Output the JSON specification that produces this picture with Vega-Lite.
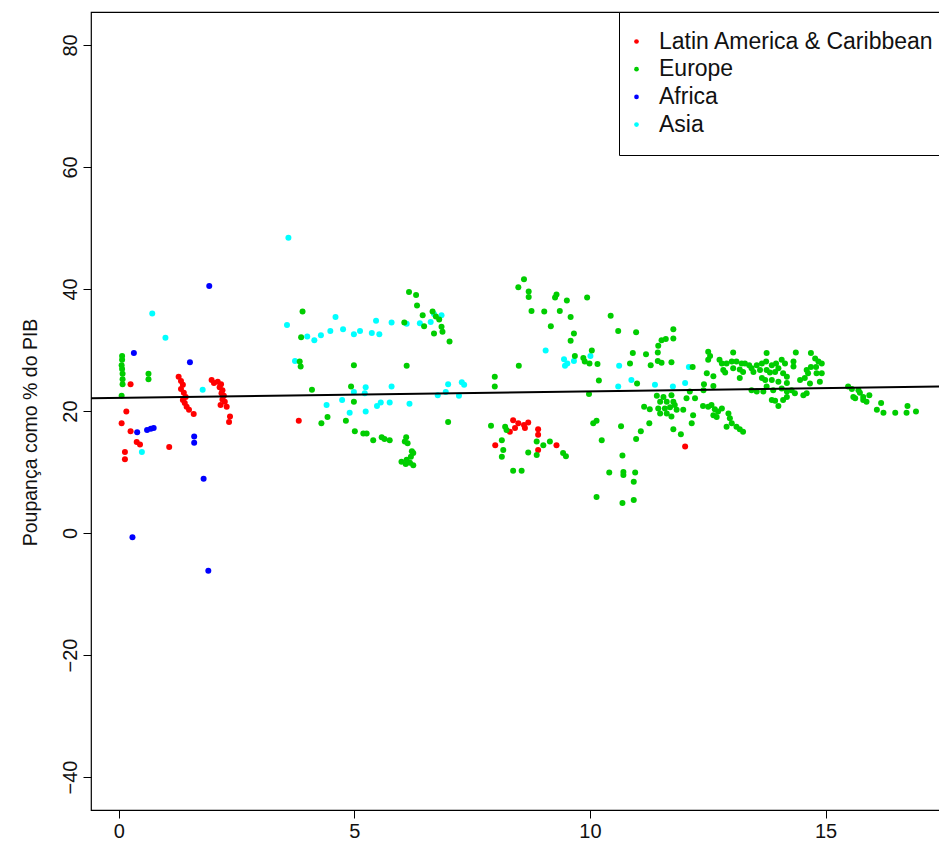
{
"$schema": "https://vega.github.io/schema/vega-lite/v6.json",
"width": 849, "height": 798,
"autosize": {"type": "none"},
"padding": {"left": 91, "top": 12, "right": 0, "bottom": 37},
"background": "white",
"config": {"view": {"stroke": "#000", "strokeWidth": 1.2}, "font": "Liberation Sans"},
"datasets": {
"fit": [{"x": -0.59, "y": 22.08}, {"x": 17.43, "y": 24.0}],
"pts": [
{"x":0.25,"y":24.4,"region":"Latin America & Caribbean"},{"x":0.16,"y":19.9,"region":"Latin America & Caribbean"},{"x":0.06,"y":18.0,"region":"Latin America & Caribbean"},{"x":0.25,"y":16.7,"region":"Latin America & Caribbean"},{"x":0.38,"y":14.9,"region":"Latin America & Caribbean"},{"x":0.45,"y":14.5,"region":"Latin America & Caribbean"},{"x":0.13,"y":13.3,"region":"Latin America & Caribbean"},{"x":0.13,"y":12.1,"region":"Latin America & Caribbean"},{"x":1.07,"y":14.1,"region":"Latin America & Caribbean"},
{"x":1.27,"y":25.6,"region":"Latin America & Caribbean"},{"x":1.32,"y":24.9,"region":"Latin America & Caribbean"},{"x":1.36,"y":24.3,"region":"Latin America & Caribbean"},{"x":1.32,"y":23.6,"region":"Latin America & Caribbean"},{"x":1.38,"y":23.0,"region":"Latin America & Caribbean"},{"x":1.42,"y":22.3,"region":"Latin America & Caribbean"},{"x":1.36,"y":21.8,"region":"Latin America & Caribbean"},{"x":1.40,"y":21.3,"region":"Latin America & Caribbean"},{"x":1.44,"y":20.7,"region":"Latin America & Caribbean"},{"x":1.49,"y":20.2,"region":"Latin America & Caribbean"},{"x":1.59,"y":19.5,"region":"Latin America & Caribbean"},
{"x":1.97,"y":25.1,"region":"Latin America & Caribbean"},{"x":2.02,"y":24.6,"region":"Latin America & Caribbean"},{"x":2.10,"y":24.8,"region":"Latin America & Caribbean"},{"x":2.17,"y":24.4,"region":"Latin America & Caribbean"},{"x":2.14,"y":23.9,"region":"Latin America & Caribbean"},{"x":2.20,"y":23.4,"region":"Latin America & Caribbean"},{"x":2.18,"y":22.9,"region":"Latin America & Caribbean"},{"x":2.23,"y":22.5,"region":"Latin America & Caribbean"},{"x":2.20,"y":21.9,"region":"Latin America & Caribbean"},{"x":2.25,"y":21.5,"region":"Latin America & Caribbean"},{"x":2.16,"y":21.0,"region":"Latin America & Caribbean"},{"x":2.29,"y":20.7,"region":"Latin America & Caribbean"},{"x":2.36,"y":19.1,"region":"Latin America & Caribbean"},{"x":2.34,"y":18.2,"region":"Latin America & Caribbean"},
{"x":3.82,"y":18.4,"region":"Latin America & Caribbean"},{"x":7.99,"y":14.4,"region":"Latin America & Caribbean"},{"x":8.37,"y":18.5,"region":"Latin America & Caribbean"},{"x":8.48,"y":18.0,"region":"Latin America & Caribbean"},{"x":8.60,"y":17.7,"region":"Latin America & Caribbean"},{"x":8.69,"y":18.1,"region":"Latin America & Caribbean"},{"x":8.30,"y":16.6,"region":"Latin America & Caribbean"},{"x":8.41,"y":17.2,"region":"Latin America & Caribbean"},{"x":8.62,"y":17.2,"region":"Latin America & Caribbean"},{"x":8.90,"y":17.0,"region":"Latin America & Caribbean"},{"x":8.90,"y":16.1,"region":"Latin America & Caribbean"},{"x":8.90,"y":13.6,"region":"Latin America & Caribbean"},{"x":9.29,"y":14.4,"region":"Latin America & Caribbean"},{"x":12.02,"y":14.2,"region":"Latin America & Caribbean"},
{"x":0.32,"y":29.5,"region":"Africa"},{"x":0.39,"y":16.5,"region":"Africa"},{"x":0.60,"y":16.9,"region":"Africa"},{"x":0.68,"y":17.1,"region":"Africa"},{"x":0.74,"y":17.2,"region":"Africa"},{"x":0.29,"y":-0.7,"region":"Africa"},{"x":1.51,"y":28.0,"region":"Africa"},{"x":1.60,"y":15.8,"region":"Africa"},{"x":1.60,"y":14.8,"region":"Africa"},{"x":1.80,"y":8.9,"region":"Africa"},{"x":1.92,"y":40.5,"region":"Africa"},{"x":1.90,"y":-6.2,"region":"Africa"},
{"x":0.71,"y":36.0,"region":"Asia"},{"x":0.99,"y":32.0,"region":"Asia"},{"x":0.49,"y":13.3,"region":"Asia"},{"x":1.78,"y":23.5,"region":"Asia"},{"x":3.60,"y":48.4,"region":"Asia"},{"x":3.57,"y":34.1,"region":"Asia"},{"x":3.74,"y":28.2,"region":"Asia"},{"x":4.00,"y":32.2,"region":"Asia"},{"x":4.15,"y":31.6,"region":"Asia"},{"x":4.29,"y":32.4,"region":"Asia"},{"x":4.49,"y":33.1,"region":"Asia"},{"x":4.60,"y":35.4,"region":"Asia"},{"x":4.76,"y":33.4,"region":"Asia"},{"x":4.99,"y":32.6,"region":"Asia"},{"x":5.12,"y":33.1,"region":"Asia"},{"x":5.37,"y":32.8,"region":"Asia"},{"x":5.46,"y":34.8,"region":"Asia"},{"x":5.53,"y":32.6,"region":"Asia"},{"x":5.79,"y":34.5,"region":"Asia"},{"x":6.11,"y":34.3,"region":"Asia"},{"x":6.39,"y":34.4,"region":"Asia"},{"x":6.62,"y":34.6,"region":"Asia"},{"x":6.69,"y":35.9,"region":"Asia"},{"x":6.85,"y":35.7,"region":"Asia"},{"x":4.41,"y":21.0,"region":"Asia"},{"x":4.74,"y":21.8,"region":"Asia"},{"x":4.90,"y":19.7,"region":"Asia"},{"x":4.99,"y":23.1,"region":"Asia"},{"x":5.24,"y":23.9,"region":"Asia"},{"x":5.22,"y":22.9,"region":"Asia"},{"x":5.24,"y":19.9,"region":"Asia"},{"x":5.48,"y":20.8,"region":"Asia"},{"x":5.56,"y":21.4,"region":"Asia"},{"x":5.75,"y":21.4,"region":"Asia"},{"x":5.79,"y":24.0,"region":"Asia"},{"x":6.17,"y":21.2,"region":"Asia"},{"x":6.77,"y":22.6,"region":"Asia"},{"x":6.94,"y":23.1,"region":"Asia"},{"x":6.99,"y":24.4,"region":"Asia"},{"x":7.22,"y":22.5,"region":"Asia"},{"x":7.28,"y":24.7,"region":"Asia"},{"x":7.33,"y":24.3,"region":"Asia"},{"x":9.06,"y":29.9,"region":"Asia"},{"x":9.45,"y":28.5,"region":"Asia"},{"x":9.52,"y":27.8,"region":"Asia"},{"x":9.47,"y":27.4,"region":"Asia"},{"x":9.66,"y":28.2,"region":"Asia"},{"x":10.01,"y":29.0,"region":"Asia"},{"x":10.60,"y":24.0,"region":"Asia"},{"x":10.62,"y":27.4,"region":"Asia"},{"x":10.88,"y":25.1,"region":"Asia"},{"x":11.38,"y":24.3,"region":"Asia"},{"x":11.76,"y":24.0,"region":"Asia"},{"x":12.02,"y":24.6,"region":"Asia"},{"x":12.10,"y":27.2,"region":"Asia"},
{"x":0.07,"y":29.0,"region":"Europe"},{"x":0.07,"y":28.4,"region":"Europe"},{"x":0.06,"y":27.5,"region":"Europe"},{"x":0.07,"y":26.9,"region":"Europe"},{"x":0.08,"y":26.1,"region":"Europe"},{"x":0.08,"y":25.2,"region":"Europe"},{"x":0.08,"y":24.4,"region":"Europe"},{"x":0.06,"y":22.5,"region":"Europe"},{"x":0.63,"y":26.1,"region":"Europe"},{"x":0.63,"y":25.2,"region":"Europe"},
{"x":3.90,"y":36.3,"region":"Europe"},{"x":3.87,"y":32.1,"region":"Europe"},{"x":3.84,"y":28.1,"region":"Europe"},{"x":3.86,"y":27.3,"region":"Europe"},{"x":4.10,"y":23.5,"region":"Europe"},{"x":4.43,"y":19.0,"region":"Europe"},{"x":4.30,"y":18.0,"region":"Europe"},{"x":4.82,"y":18.4,"region":"Europe"},{"x":4.93,"y":24.0,"region":"Europe"},{"x":4.99,"y":27.5,"region":"Europe"},{"x":4.99,"y":21.5,"region":"Europe"},{"x":5.01,"y":16.7,"region":"Europe"},{"x":5.19,"y":16.3,"region":"Europe"},{"x":5.26,"y":16.3,"region":"Europe"},{"x":5.40,"y":15.2,"region":"Europe"},{"x":5.58,"y":15.7,"region":"Europe"},{"x":5.64,"y":15.4,"region":"Europe"},{"x":5.75,"y":15.2,"region":"Europe"},{"x":6.10,"y":15.7,"region":"Europe"},{"x":6.07,"y":15.0,"region":"Europe"},{"x":6.13,"y":14.7,"region":"Europe"},{"x":6.22,"y":13.4,"region":"Europe"},{"x":6.25,"y":13.1,"region":"Europe"},{"x":6.00,"y":11.7,"region":"Europe"},{"x":6.11,"y":12.0,"region":"Europe"},{"x":6.18,"y":11.5,"region":"Europe"},{"x":6.25,"y":11.1,"region":"Europe"},{"x":6.20,"y":12.5,"region":"Europe"},{"x":6.09,"y":11.3,"region":"Europe"},{"x":6.11,"y":27.4,"region":"Europe"},{"x":6.06,"y":34.5,"region":"Europe"},{"x":6.16,"y":39.5,"region":"Europe"},{"x":6.31,"y":39.0,"region":"Europe"},{"x":6.33,"y":37.3,"region":"Europe"},{"x":6.45,"y":35.7,"region":"Europe"},{"x":6.66,"y":36.3,"region":"Europe"},{"x":6.73,"y":35.5,"region":"Europe"},{"x":6.80,"y":35.0,"region":"Europe"},{"x":6.48,"y":33.9,"region":"Europe"},{"x":6.85,"y":33.8,"region":"Europe"},{"x":6.87,"y":33.0,"region":"Europe"},{"x":6.69,"y":32.7,"region":"Europe"},{"x":7.02,"y":31.4,"region":"Europe"},{"x":6.99,"y":18.2,"region":"Europe"},{"x":7.90,"y":17.6,"region":"Europe"},{"x":7.98,"y":25.6,"region":"Europe"},{"x":7.98,"y":24.0,"region":"Europe"},
{"x":8.49,"y":27.4,"region":"Europe"},{"x":8.48,"y":40.3,"region":"Europe"},{"x":8.60,"y":41.6,"region":"Europe"},{"x":8.70,"y":39.6,"region":"Europe"},{"x":8.70,"y":38.7,"region":"Europe"},{"x":8.76,"y":36.4,"region":"Europe"},{"x":9.03,"y":36.3,"region":"Europe"},{"x":9.17,"y":33.9,"region":"Europe"},{"x":9.29,"y":39.1,"region":"Europe"},{"x":9.26,"y":38.6,"region":"Europe"},{"x":9.36,"y":36.4,"region":"Europe"},{"x":9.51,"y":38.1,"region":"Europe"},{"x":9.59,"y":35.4,"region":"Europe"},{"x":9.66,"y":32.7,"region":"Europe"},{"x":9.59,"y":31.5,"region":"Europe"},{"x":9.94,"y":38.6,"region":"Europe"},{"x":9.68,"y":29.0,"region":"Europe"},{"x":9.86,"y":28.7,"region":"Europe"},{"x":9.89,"y":28.1,"region":"Europe"},{"x":10.04,"y":29.9,"region":"Europe"},{"x":9.99,"y":27.8,"region":"Europe"},{"x":10.16,"y":27.7,"region":"Europe"},{"x":10.19,"y":25.0,"region":"Europe"},{"x":9.98,"y":22.8,"region":"Europe"},{"x":10.44,"y":35.6,"region":"Europe"},{"x":10.60,"y":33.1,"region":"Europe"},{"x":10.98,"y":32.9,"region":"Europe"},{"x":10.91,"y":29.5,"region":"Europe"},{"x":10.85,"y":27.8,"region":"Europe"},{"x":11.19,"y":29.3,"region":"Europe"},{"x":11.29,"y":27.5,"region":"Europe"},{"x":11.00,"y":24.5,"region":"Europe"},{"x":11.44,"y":29.6,"region":"Europe"},{"x":11.45,"y":30.7,"region":"Europe"},{"x":11.52,"y":31.6,"region":"Europe"},{"x":11.61,"y":31.8,"region":"Europe"},{"x":11.77,"y":31.9,"region":"Europe"},{"x":11.77,"y":33.4,"region":"Europe"},{"x":11.44,"y":28.2,"region":"Europe"},{"x":11.52,"y":27.9,"region":"Europe"},{"x":11.73,"y":28.0,"region":"Europe"},{"x":12.18,"y":27.2,"region":"Europe"},
{"x":11.42,"y":22.5,"region":"Europe"},{"x":11.56,"y":22.3,"region":"Europe"},{"x":11.73,"y":22.6,"region":"Europe"},{"x":11.49,"y":21.5,"region":"Europe"},{"x":11.63,"y":21.5,"region":"Europe"},{"x":11.77,"y":21.5,"region":"Europe"},{"x":11.45,"y":20.4,"region":"Europe"},{"x":11.59,"y":20.4,"region":"Europe"},{"x":11.70,"y":20.6,"region":"Europe"},{"x":11.49,"y":19.6,"region":"Europe"},{"x":11.63,"y":19.6,"region":"Europe"},{"x":11.73,"y":19.1,"region":"Europe"},{"x":11.84,"y":20.2,"region":"Europe"},{"x":11.98,"y":20.2,"region":"Europe"},{"x":11.80,"y":21.0,"region":"Europe"},{"x":11.15,"y":20.7,"region":"Europe"},{"x":11.27,"y":20.3,"region":"Europe"},{"x":12.05,"y":22.1,"region":"Europe"},
{"x":12.40,"y":20.8,"region":"Europe"},{"x":12.51,"y":20.7,"region":"Europe"},{"x":12.58,"y":21.0,"region":"Europe"},{"x":12.65,"y":20.3,"region":"Europe"},{"x":12.80,"y":20.4,"region":"Europe"},{"x":12.72,"y":19.9,"region":"Europe"},{"x":12.62,"y":19.3,"region":"Europe"},{"x":12.69,"y":19.0,"region":"Europe"},{"x":12.19,"y":19.3,"region":"Europe"},{"x":12.16,"y":18.0,"region":"Europe"},{"x":12.94,"y":19.6,"region":"Europe"},{"x":12.97,"y":18.8,"region":"Europe"},{"x":12.90,"y":17.4,"region":"Europe"},{"x":13.01,"y":18.0,"region":"Europe"},{"x":13.11,"y":17.4,"region":"Europe"},{"x":13.18,"y":17.0,"region":"Europe"},{"x":13.25,"y":16.6,"region":"Europe"},
{"x":10.14,"y":18.4,"region":"Europe"},{"x":10.07,"y":18.0,"region":"Europe"},{"x":10.66,"y":17.5,"region":"Europe"},{"x":11.26,"y":18.0,"region":"Europe"},{"x":11.08,"y":16.7,"region":"Europe"},{"x":10.98,"y":15.4,"region":"Europe"},{"x":10.25,"y":15.2,"region":"Europe"},{"x":11.77,"y":17.0,"region":"Europe"},{"x":11.93,"y":16.2,"region":"Europe"},{"x":9.43,"y":13.1,"region":"Europe"},{"x":9.49,"y":12.6,"region":"Europe"},{"x":10.69,"y":12.7,"region":"Europe"},{"x":10.41,"y":9.9,"region":"Europe"},{"x":10.71,"y":10.0,"region":"Europe"},{"x":10.71,"y":9.5,"region":"Europe"},{"x":10.96,"y":9.9,"region":"Europe"},{"x":10.93,"y":8.4,"region":"Europe"},{"x":10.14,"y":5.9,"region":"Europe"},{"x":10.69,"y":4.9,"region":"Europe"},{"x":10.93,"y":5.4,"region":"Europe"},{"x":12.42,"y":24.4,"region":"Europe"},{"x":12.62,"y":24.1,"region":"Europe"},{"x":12.51,"y":29.7,"region":"Europe"},{"x":12.55,"y":29.0,"region":"Europe"},{"x":12.51,"y":28.4,"region":"Europe"},{"x":12.48,"y":26.2,"region":"Europe"},
{"x":8.20,"y":17.4,"region":"Europe"},{"x":8.23,"y":16.9,"region":"Europe"},{"x":8.13,"y":15.2,"region":"Europe"},{"x":8.16,"y":13.6,"region":"Europe"},{"x":8.13,"y":12.5,"region":"Europe"},{"x":8.87,"y":15.0,"region":"Europe"},{"x":9.01,"y":14.4,"region":"Europe"},{"x":9.15,"y":15.0,"region":"Europe"},{"x":8.69,"y":13.2,"region":"Europe"},{"x":8.87,"y":12.8,"region":"Europe"},{"x":8.37,"y":10.2,"region":"Europe"},{"x":8.55,"y":10.2,"region":"Europe"},
{"x":13.04,"y":29.6,"region":"Europe"},{"x":13.75,"y":29.5,"region":"Europe"},{"x":14.37,"y":29.6,"region":"Europe"},{"x":14.69,"y":29.5,"region":"Europe"},{"x":12.75,"y":28.4,"region":"Europe"},{"x":12.80,"y":27.8,"region":"Europe"},{"x":12.90,"y":27.8,"region":"Europe"},{"x":13.01,"y":28.1,"region":"Europe"},{"x":13.11,"y":28.1,"region":"Europe"},{"x":13.22,"y":27.8,"region":"Europe"},{"x":13.29,"y":27.8,"region":"Europe"},{"x":13.38,"y":27.5,"region":"Europe"},{"x":13.54,"y":27.5,"region":"Europe"},{"x":13.65,"y":27.8,"region":"Europe"},{"x":13.74,"y":28.1,"region":"Europe"},{"x":13.86,"y":27.5,"region":"Europe"},{"x":13.95,"y":27.8,"region":"Europe"},{"x":14.07,"y":28.4,"region":"Europe"},{"x":14.14,"y":27.8,"region":"Europe"},{"x":14.32,"y":28.1,"region":"Europe"},{"x":14.32,"y":27.3,"region":"Europe"},{"x":14.78,"y":28.6,"region":"Europe"},{"x":14.85,"y":28.1,"region":"Europe"},{"x":14.92,"y":27.8,"region":"Europe"},{"x":12.83,"y":26.7,"region":"Europe"},{"x":12.87,"y":26.3,"region":"Europe"},{"x":13.04,"y":27.0,"region":"Europe"},{"x":13.18,"y":26.8,"region":"Europe"},{"x":13.25,"y":26.4,"region":"Europe"},{"x":13.43,"y":27.0,"region":"Europe"},{"x":13.47,"y":26.4,"region":"Europe"},{"x":13.61,"y":26.7,"region":"Europe"},{"x":13.75,"y":26.7,"region":"Europe"},{"x":13.82,"y":26.3,"region":"Europe"},{"x":13.93,"y":26.4,"region":"Europe"},{"x":14.00,"y":27.0,"region":"Europe"},{"x":14.10,"y":26.2,"region":"Europe"},{"x":14.18,"y":25.6,"region":"Europe"},{"x":14.60,"y":26.7,"region":"Europe"},{"x":14.63,"y":26.2,"region":"Europe"},{"x":14.69,"y":27.2,"region":"Europe"},{"x":14.81,"y":26.2,"region":"Europe"},{"x":14.80,"y":27.2,"region":"Europe"},{"x":13.18,"y":25.4,"region":"Europe"},{"x":13.65,"y":25.4,"region":"Europe"},{"x":13.72,"y":25.1,"region":"Europe"},{"x":13.86,"y":25.1,"region":"Europe"},{"x":14.00,"y":24.8,"region":"Europe"},{"x":14.18,"y":24.6,"region":"Europe"},{"x":14.46,"y":25.1,"region":"Europe"},{"x":14.56,"y":25.4,"region":"Europe"},{"x":14.67,"y":24.5,"region":"Europe"},{"x":14.88,"y":24.8,"region":"Europe"},{"x":12.41,"y":23.4,"region":"Europe"},{"x":13.54,"y":23.2,"region":"Europe"},{"x":13.68,"y":23.2,"region":"Europe"},{"x":13.75,"y":24.0,"region":"Europe"},{"x":13.89,"y":23.4,"region":"Europe"},{"x":14.07,"y":23.7,"region":"Europe"},{"x":14.18,"y":23.2,"region":"Europe"},{"x":14.28,"y":23.4,"region":"Europe"},{"x":14.53,"y":22.6,"region":"Europe"},{"x":14.60,"y":22.9,"region":"Europe"},{"x":14.35,"y":22.9,"region":"Europe"},{"x":13.86,"y":21.8,"region":"Europe"},{"x":13.93,"y":21.7,"region":"Europe"},{"x":14.00,"y":20.8,"region":"Europe"},{"x":14.18,"y":22.3,"region":"Europe"},{"x":14.10,"y":21.8,"region":"Europe"},{"x":12.12,"y":23.2,"region":"Europe"},{"x":12.23,"y":22.1,"region":"Europe"},{"x":13.43,"y":23.4,"region":"Europe"},{"x":12.62,"y":25.7,"region":"Europe"},{"x":14.92,"y":26.2,"region":"Europe"},
{"x":15.48,"y":24.0,"region":"Europe"},{"x":15.56,"y":23.6,"region":"Europe"},{"x":15.70,"y":23.4,"region":"Europe"},{"x":15.73,"y":23.0,"region":"Europe"},{"x":15.59,"y":22.3,"region":"Europe"},{"x":15.63,"y":22.1,"region":"Europe"},{"x":15.80,"y":22.3,"region":"Europe"},{"x":15.93,"y":22.6,"region":"Europe"},{"x":15.87,"y":21.5,"region":"Europe"},{"x":15.80,"y":21.8,"region":"Europe"},{"x":16.18,"y":21.3,"region":"Europe"},{"x":16.09,"y":20.2,"region":"Europe"},{"x":16.23,"y":19.7,"region":"Europe"},{"x":16.48,"y":19.7,"region":"Europe"},{"x":16.74,"y":20.8,"region":"Europe"},{"x":16.72,"y":19.7,"region":"Europe"},{"x":16.92,"y":19.9,"region":"Europe"}
]
},
"layer": [
{
"data": {"name": "pts"},
"mark": {"type": "point", "filled": true, "shape": "circle", "size": 36, "opacity": 1},
"encoding": {
"x": {"field": "x", "type": "quantitative",
"scale": {"domain": [-0.59, 17.43], "nice": false, "zero": false},
"axis": {"values": [0, 5, 10, 15], "title": null, "domain": false, "grid": false, "tickColor": "#000", "tickSize": 8, "labelFontSize": 20, "labelPadding": 3, "labelColor": "#111", "labelFont": "Liberation Sans"}},
"y": {"field": "y", "type": "quantitative",
"scale": {"domain": [-45.4, 85.4], "nice": false, "zero": false},
"axis": {"values": [-40, -20, 0, 20, 40, 60, 80], "title": "Poupança como % do PIB", "domain": false, "grid": false, "tickColor": "#000", "tickSize": 8, "labelAngle": -90, "labelAlign": "center", "labelBaseline": "bottom", "labelFontSize": 20, "labelPadding": 3, "labelColor": "#111", "labelFont": "Liberation Sans", "titleFont": "Liberation Sans", "titleFontSize": 19.5, "titleFontWeight": "normal", "titleColor": "#111", "titleAngle": -90, "titleX": -61, "titleY": 420, "titleAlign": "center", "titleBaseline": "middle"}},
"color": {"field": "region", "type": "nominal",
"scale": {"domain": ["Latin America & Caribbean", "Europe", "Africa", "Asia"], "range": ["#FF0000", "#00CD00", "#0000FF", "#00FFFF"]},
"legend": {"title": null, "orient": "none", "legendX": 528, "legendY": 0, "strokeColor": "#000", "fillColor": "#fff", "cornerRadius": 0, "padding": 18, "symbolType": "circle", "symbolSize": 22, "symbolStrokeWidth": 0, "symbolOffset": -12, "labelFontSize": 23, "labelFont": "Liberation Sans", "labelColor": "#111", "labelOffset": 11, "rowPadding": 3.7, "labelLimit": 400}}
}
},
{
"data": {"name": "fit"},
"mark": {"type": "line", "color": "#000", "strokeWidth": 2, "clip": true},
"encoding": {
"x": {"field": "x", "type": "quantitative", "scale": {"domain": [-0.59, 17.43], "nice": false, "zero": false}},
"y": {"field": "y", "type": "quantitative", "scale": {"domain": [-45.4, 85.4], "nice": false, "zero": false}}
}
}
]
}
